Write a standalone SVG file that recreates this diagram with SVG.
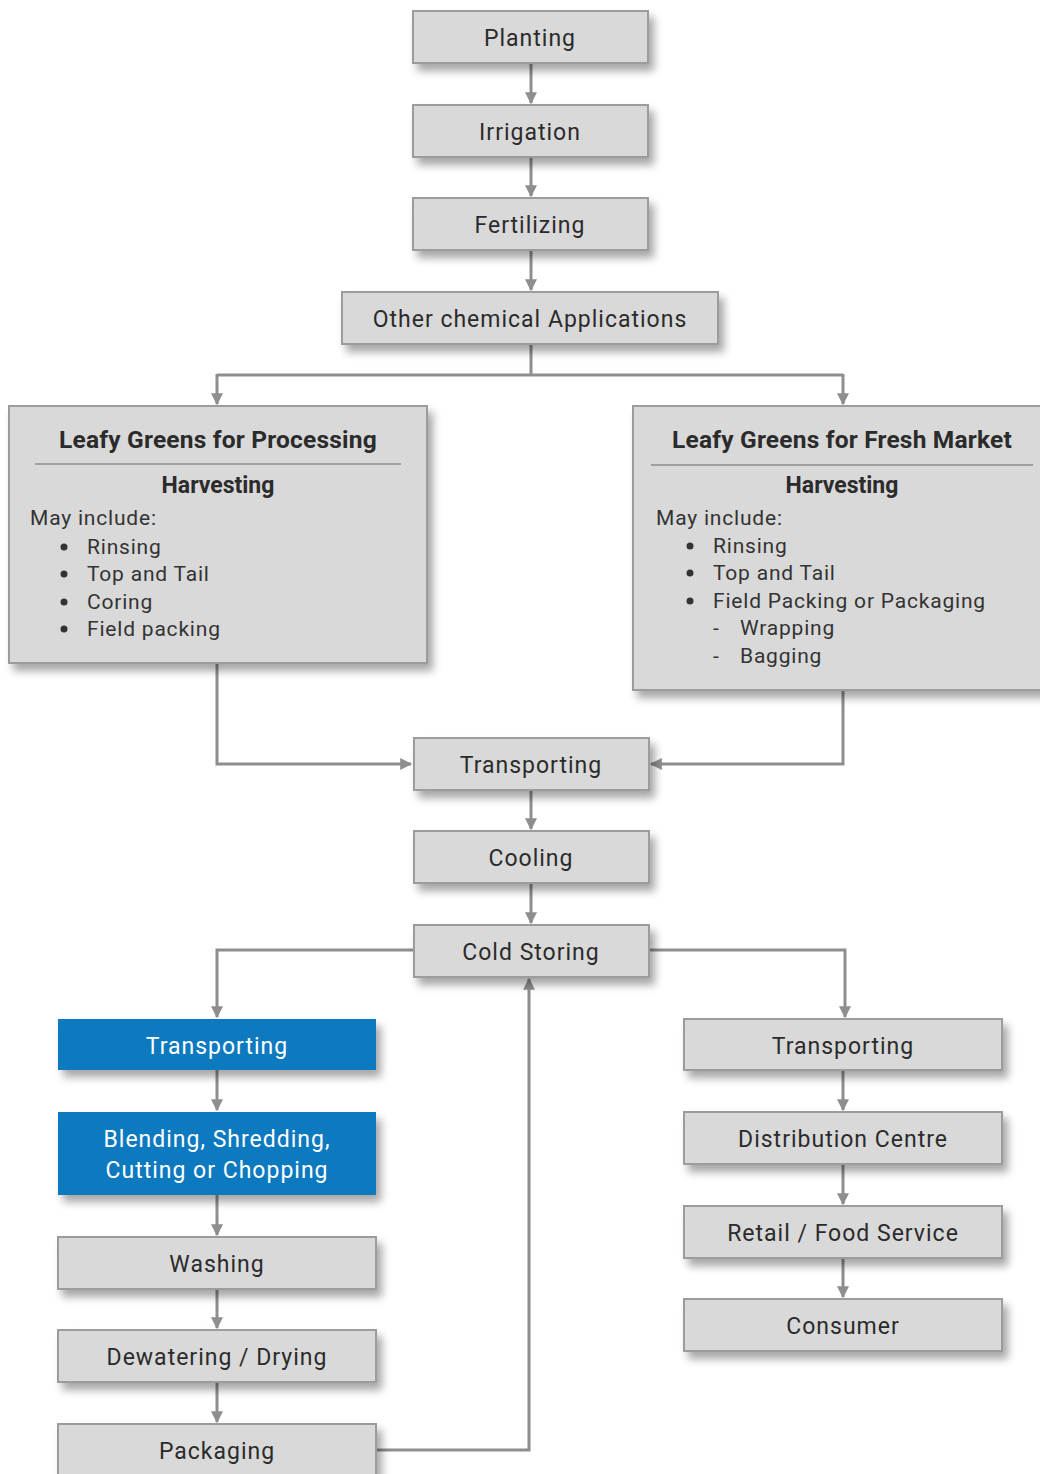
<svg xmlns="http://www.w3.org/2000/svg" width="1040" height="1474" viewBox="0 0 1040 1474">
<style>
.box{fill:#d9d9d9;stroke:#9c9c9c;stroke-width:2}
.blue{fill:#0a79bf;stroke:none}
.t{font-family:Roboto,"Liberation Sans",sans-serif;font-size:23px;fill:#2b2b2b;text-anchor:middle;letter-spacing:1px}
.w{fill:#ffffff}
.h{font-family:Roboto,"Liberation Sans",sans-serif;font-size:22px;fill:#2b2b2b;text-anchor:middle;font-weight:bold}
.ti{font-size:24.5px;letter-spacing:0.2px}
.l{font-family:Roboto,"Liberation Sans",sans-serif;font-size:21px;fill:#333333;letter-spacing:0.8px}
.c{fill:none;stroke:#8e8e8e;stroke-width:3}
.d{fill:#333333}
</style>
<defs>
<filter id="sh" x="-10%" y="-20%" width="130%" height="160%">
<feDropShadow dx="5" dy="7" stdDeviation="4" flood-color="#000" flood-opacity="0.35"/>
</filter>
<marker id="a" viewBox="0 0 10 10" refX="9" refY="5" markerWidth="4" markerHeight="4" orient="auto" markerUnits="strokeWidth">
<path d="M0,0 L10,5 L0,10 z" fill="#8e8e8e"/>
</marker>
</defs>
<rect width="1040" height="1474" fill="#ffffff"/>
<g id="connectors">
<path class="c" d="M531,63 V103" marker-end="url(#a)"/>
<path class="c" d="M531,157 V196" marker-end="url(#a)"/>
<path class="c" d="M531,250 V290" marker-end="url(#a)"/>
<path class="c" d="M531,344 V375 M217,375 H843"/>
<path class="c" d="M217,374 V404" marker-end="url(#a)"/>
<path class="c" d="M843,374 V404" marker-end="url(#a)"/>
<path class="c" d="M217,663 V764 H411" marker-end="url(#a)"/>
<path class="c" d="M843,690 V764 H651" marker-end="url(#a)"/>
<path class="c" d="M531,790 V829" marker-end="url(#a)"/>
<path class="c" d="M531,883 V923" marker-end="url(#a)"/>
<path class="c" d="M414,950 H217 V1017" marker-end="url(#a)"/>
<path class="c" d="M649,950 H845 V1017" marker-end="url(#a)"/>
<path class="c" d="M217,1070 V1110" marker-end="url(#a)"/>
<path class="c" d="M217,1195 V1235" marker-end="url(#a)"/>
<path class="c" d="M217,1289 V1328" marker-end="url(#a)"/>
<path class="c" d="M217,1382 V1422" marker-end="url(#a)"/>
<path class="c" d="M376,1450 H529 V979" marker-end="url(#a)"/>
<path class="c" d="M843,1070 V1110" marker-end="url(#a)"/>
<path class="c" d="M843,1164 V1204" marker-end="url(#a)"/>
<path class="c" d="M843,1258 V1297" marker-end="url(#a)"/>
</g>
<g id="planting"><rect class="box" x="413" y="11" width="235" height="52" filter="url(#sh)"/><text class="t" x="530" y="46">Planting</text></g>
<g id="irrigation"><rect class="box" x="413" y="105" width="235" height="52" filter="url(#sh)"/><text class="t" x="530" y="140">Irrigation</text></g>
<g id="fertilizing"><rect class="box" x="413" y="198" width="235" height="52" filter="url(#sh)"/><text class="t" x="530" y="233">Fertilizing</text></g>
<g id="other"><rect class="box" x="342" y="292" width="376" height="52" filter="url(#sh)"/><text class="t" x="530" y="327">Other chemical Applications</text></g>
<g id="processing">
<rect class="box" x="9" y="406" width="418" height="257" filter="url(#sh)"/>
<text class="h ti" x="218" y="448">Leafy Greens for Processing</text>
<line x1="35" y1="464" x2="401" y2="464" stroke="#8e8e8e" stroke-width="1.5"/>
<text class="h" x="218" y="493" style="font-size:23px">Harvesting</text>
<text class="l" x="30" y="525">May include:</text>
<circle class="d" cx="64" cy="547" r="3.5"/><text class="l" x="87" y="554">Rinsing</text>
<circle class="d" cx="64" cy="574" r="3.5"/><text class="l" x="87" y="581">Top and Tail</text>
<circle class="d" cx="64" cy="602" r="3.5"/><text class="l" x="87" y="609">Coring</text>
<circle class="d" cx="64" cy="629" r="3.5"/><text class="l" x="87" y="636">Field packing</text>
</g>
<g id="fresh">
<rect class="box" x="633" y="406" width="420" height="284" filter="url(#sh)"/>
<text class="h ti" x="842" y="448">Leafy Greens for Fresh Market</text>
<line x1="651" y1="465" x2="1033" y2="465" stroke="#8e8e8e" stroke-width="1.5"/>
<text class="h" x="842" y="493" style="font-size:23px">Harvesting</text>
<text class="l" x="656" y="525">May include:</text>
<circle class="d" cx="690" cy="546" r="3.5"/><text class="l" x="713" y="553">Rinsing</text>
<circle class="d" cx="690" cy="573" r="3.5"/><text class="l" x="713" y="580">Top and Tail</text>
<circle class="d" cx="690" cy="601" r="3.5"/><text class="l" x="713" y="608">Field Packing or Packaging</text>
<text class="l" x="713" y="635">-</text><text class="l" x="740" y="635">Wrapping</text>
<text class="l" x="713" y="663">-</text><text class="l" x="740" y="663">Bagging</text>
</g>
<g id="transporting"><rect class="box" x="414" y="738" width="235" height="52" filter="url(#sh)"/><text class="t" x="531" y="773">Transporting</text></g>
<g id="cooling"><rect class="box" x="414" y="831" width="235" height="52" filter="url(#sh)"/><text class="t" x="531" y="866">Cooling</text></g>
<g id="coldstoring"><rect class="box" x="414" y="925" width="235" height="52" filter="url(#sh)"/><text class="t" x="531" y="960">Cold Storing</text></g>
<g id="transporting-blue"><rect class="blue" x="58" y="1019" width="318" height="51" filter="url(#sh)"/><text class="t w" x="217" y="1054">Transporting</text></g>
<g id="blending"><rect class="blue" x="58" y="1112" width="318" height="83" filter="url(#sh)"/><text class="t w" x="217" y="1147">Blending, Shredding,</text><text class="t w" x="217" y="1178">Cutting or Chopping</text></g>
<g id="washing"><rect class="box" x="58" y="1237" width="318" height="52" filter="url(#sh)"/><text class="t" x="217" y="1272">Washing</text></g>
<g id="dewatering"><rect class="box" x="58" y="1330" width="318" height="52" filter="url(#sh)"/><text class="t" x="217" y="1365">Dewatering / Drying</text></g>
<g id="packaging"><rect class="box" x="58" y="1424" width="318" height="60" filter="url(#sh)"/><text class="t" x="217" y="1459">Packaging</text></g>
<g id="transporting-right"><rect class="box" x="684" y="1019" width="318" height="51" filter="url(#sh)"/><text class="t" x="843" y="1054">Transporting</text></g>
<g id="distribution"><rect class="box" x="684" y="1112" width="318" height="52" filter="url(#sh)"/><text class="t" x="843" y="1147">Distribution Centre</text></g>
<g id="retail"><rect class="box" x="684" y="1206" width="318" height="52" filter="url(#sh)"/><text class="t" x="843" y="1241">Retail / Food Service</text></g>
<g id="consumer"><rect class="box" x="684" y="1299" width="318" height="52" filter="url(#sh)"/><text class="t" x="843" y="1334">Consumer</text></g>
</svg>
